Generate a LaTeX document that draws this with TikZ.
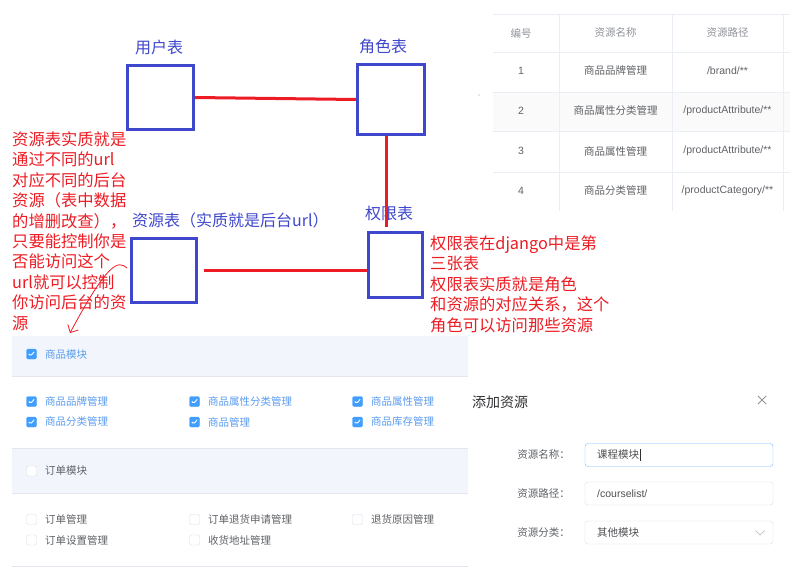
\documentclass[tikz,border=0pt]{standalone}
\usepackage{fontspec}
\setmainfont{Liberation Sans}
\newfontfamily\cjk{Noto Sans CJK SC}
\usetikzlibrary{arrows.meta}
\definecolor{pred}{HTML}{ED1C24}
\definecolor{pblue}{HTML}{3F48CC}
\definecolor{elblue}{HTML}{409EFF}
\definecolor{elbluetxt}{HTML}{5A9CF0}
\definecolor{eltext}{HTML}{606266}
\definecolor{elgray}{HTML}{909399}
\definecolor{eldark}{HTML}{303133}
\definecolor{elline}{HTML}{EBEEF5}
\definecolor{elsep}{HTML}{E4E7ED}
\definecolor{elband}{HTML}{F2F6FC}
\definecolor{elstripe}{HTML}{FAFAFA}
\definecolor{elborder}{HTML}{DCDFE6}
\definecolor{elchev}{HTML}{C0C4CC}
\begin{document}
\begin{tikzpicture}[x=1pt,y=-1pt,
  tbl/.style={draw=pblue, line width=3.4pt, inner sep=0pt, rectangle},
  blab/.style={text=pblue, font=\cjk\fontsize{16}{18}\selectfont, inner sep=0pt},
  rline/.style={draw=pred, line width=3pt},
  rnote/.style={text=pred, font=\cjk\fontsize{16.3}{20.4}\selectfont, align=left, inner sep=0pt, anchor=north west},
  eltxt/.style={text=eltext, font=\cjk\fontsize{10.5}{12}\selectfont, inner sep=0pt},
  elhead/.style={text=elgray, font=\cjk\fontsize{10.5}{12}\selectfont, inner sep=0pt},
  elpath/.style={text=eltext, font=\fontsize{10.5}{12}\selectfont, inner sep=0pt},
  onlab/.style={text=elbluetxt, font=\cjk\fontsize{10.5}{12}\selectfont, inner sep=0pt, anchor=west},
  offlab/.style={text=eltext, font=\cjk\fontsize{10.5}{12}\selectfont, inner sep=0pt, anchor=west},
  cbon/.style={rectangle, rounded corners=1.5pt, minimum size=10pt, inner sep=0pt, fill=elblue, draw=elblue,
    path picture={\draw[white, line width=0.9pt] ([shift={(-2.6,0)}]path picture bounding box.center) -- ++(1.8,2) -- ++(3.4,-4.2);}},
  cboff/.style={rectangle, rounded corners=1.5pt, minimum size=10pt, inner sep=0pt, fill=white, draw=elborder},
  inbox/.style={rectangle, rounded corners=3pt, minimum width=188pt, minimum height=23pt, inner sep=0pt, draw=elborder, fill=white},
  sepline/.style={draw=elsep, line width=0.8pt},
  gridline/.style={draw=elline, line width=0.8pt}
]
\useasboundingbox[fill=white] (0,0) rectangle (805,572);

% ---------- diagram ----------
\node[tbl, minimum width=65.5pt, minimum height=63.5pt] (user) at (160.5,97.5) {};
\node[tbl, minimum width=67pt, minimum height=69.5pt] (role) at (391,99.5) {};
\node[tbl, minimum width=64.5pt, minimum height=63.5pt] (res) at (164,270.5) {};
\node[tbl, minimum width=54pt, minimum height=64.5pt] (perm) at (395.5,265) {};

\node[blab] (userlab) at (159,47) {用户表};
\node[blab] (rolelab) at (383,46) {角色表};
\node[blab] (permlab) at (389,213) {权限表};
\node[blab, anchor=west] (reslab) at (132,220) {资源表（实质就是后台url）};

\draw[rline] (user.east) -- (role.west);
\draw[rline] ([xshift=-5pt]role.south) -- ([xshift=-9.5pt,yshift=4pt]perm.north);
\draw[rline] ([xshift=6pt]res.east) -- (perm.west |- res.east);

\node[rnote] (leftnote) at (12,131.5) {资源表实质就是\\通过不同的url\\对应不同的后台\\资源（表中数据\\的增删改查），\\只要能控制你是\\否能访问这个\\url就可以控制\\你访问后台的资\\源};
\node[rnote] (rightnote) at (430,235.5) {权限表在django中是第\\三张表\\权限表实质就是角色\\和资源的对应关系，这个\\角色可以访问那些资源};

\coordinate (arrend) at (70,333);
\draw[pred, line width=0.8pt, -{Straight Barb[length=6pt,width=12pt]}]
  ([xshift=-3pt,yshift=2.5pt]res.west) .. controls (118,260) and (108,262) .. (arrend);

% ---------- table ----------
\fill[elstripe] (493,92) rectangle (790,131);
\foreach \yy in {14,52,92,131,172} \draw[gridline] (493,\yy) -- (790,\yy);
\foreach \xx in {559,672,783} \draw[gridline] (\xx,14) -- (\xx,211);
\node[elhead] (h1) at (521,33) {编号};
\node[elhead] (h2) at (615.5,33) {资源名称};
\node[elhead] (h3) at (727.5,33) {资源路径};
\node[elpath] (n1) at (521,71) {1};
\node[eltxt] (m1) at (615.5,71) {商品品牌管理};
\node[elpath] (p1) at (727.5,71) {/brand/**};
\node[elpath] (n2) at (521,111) {2};
\node[eltxt] (m2) at (615.5,111) {商品属性分类管理};
\node[elpath] (p2) at (727.5,111) {/productAttribute/**};
\node[elpath] (n3) at (521,151) {3};
\node[eltxt] (m3) at (615.5,151) {商品属性管理};
\node[elpath] (p3) at (727.5,151) {/productAttribute/**};
\node[elpath] (n4) at (521,191) {4};
\node[eltxt] (m4) at (615.5,191) {商品分类管理};
\node[elpath] (p4) at (727.5,191) {/productCategory/**};
\fill[elgray] (479,95) circle (0.7);

% ---------- checkbox tree ----------
\fill[elband] (12,336) rectangle (468,376);
\draw[sepline] (12,376) -- (468,376);
\fill[elband] (12,448) rectangle (468,493);
\draw[sepline] (12,448) -- (468,448);
\draw[sepline] (12,493) -- (468,493);
\draw[sepline] (12,566) -- (468,566);

\node[cbon] (cbA) at (31.5,354) {};
\node[onlab] (lbA) at (45,354) {商品模块};
\node[cbon] (cb11) at (31.5,401.5) {};
\node[onlab] (lb11) at (45,401.5) {商品品牌管理};
\node[cbon] (cb12) at (194.5,401.5) {};
\node[onlab] (lb12) at (208,401.5) {商品属性分类管理};
\node[cbon] (cb13) at (357.5,401.5) {};
\node[onlab] (lb13) at (371,401.5) {商品属性管理};
\node[cbon] (cb21) at (31.5,422) {};
\node[onlab] (lb21) at (45,422) {商品分类管理};
\node[cbon] (cb22) at (194.5,422) {};
\node[onlab] (lb22) at (208,422) {商品管理};
\node[cbon] (cb23) at (357.5,422) {};
\node[onlab] (lb23) at (371,422) {商品库存管理};

\node[cboff] (cbB) at (31.5,471) {};
\node[offlab] (lbB) at (45,471) {订单模块};
\node[cboff] (cb31) at (31.5,519.5) {};
\node[offlab] (lb31) at (45,519.5) {订单管理};
\node[cboff] (cb32) at (194.5,519.5) {};
\node[offlab] (lb32) at (208,519.5) {订单退货申请管理};
\node[cboff] (cb33) at (357.5,519.5) {};
\node[offlab] (lb33) at (371,519.5) {退货原因管理};
\node[cboff] (cb41) at (31.5,540) {};
\node[offlab] (lb41) at (45,540) {订单设置管理};
\node[cboff] (cb42) at (194.5,540) {};
\node[offlab] (lb42) at (208,540) {收货地址管理};

% ---------- dialog ----------
\node[text=eldark, font=\cjk\fontsize{14}{16}\selectfont, inner sep=0pt, anchor=west] (dtitle) at (472,402) {添加资源};
\coordinate (xc) at (762,400);
\draw[elgray, line width=0.8pt] ([shift={(-4,-4)}]xc) -- ([shift={(4,4)}]xc) ([shift={(-4,4)}]xc) -- ([shift={(4,-4)}]xc);

\node[eltxt, anchor=east] (fl1) at (570,455) {资源名称：};
\node[eltxt, anchor=east] (fl2) at (570,493.5) {资源路径：};
\node[eltxt, anchor=east] (fl3) at (570,532.5) {资源分类：};
\node[inbox, draw=elblue!70] (in1) at (679,455) {};
\node[inbox] (in2) at (679,493.5) {};
\node[inbox] (in3) at (679,532.5) {};
\node[eltxt, text=eldark!85, anchor=west] (v1) at (597,455) {课程模块};
\draw[eldark, line width=0.6pt] ([xshift=1pt,yshift=1pt]v1.north east) -- ([xshift=1pt,yshift=-1pt]v1.south east);
\node[elpath, text=eldark!85, anchor=west] (v2) at (597,493.5) {/courselist/};
\node[eltxt, text=eldark!85, anchor=west] (v3) at (597,532.5) {其他模块};
\coordinate (chev) at (760,532.5);
\draw[elchev, line width=0.7pt] ([shift={(-4.5,-2)}]chev) -- ([shift={(0,2.5)}]chev) -- ([shift={(4.5,-2)}]chev);
\end{tikzpicture}
\end{document}
